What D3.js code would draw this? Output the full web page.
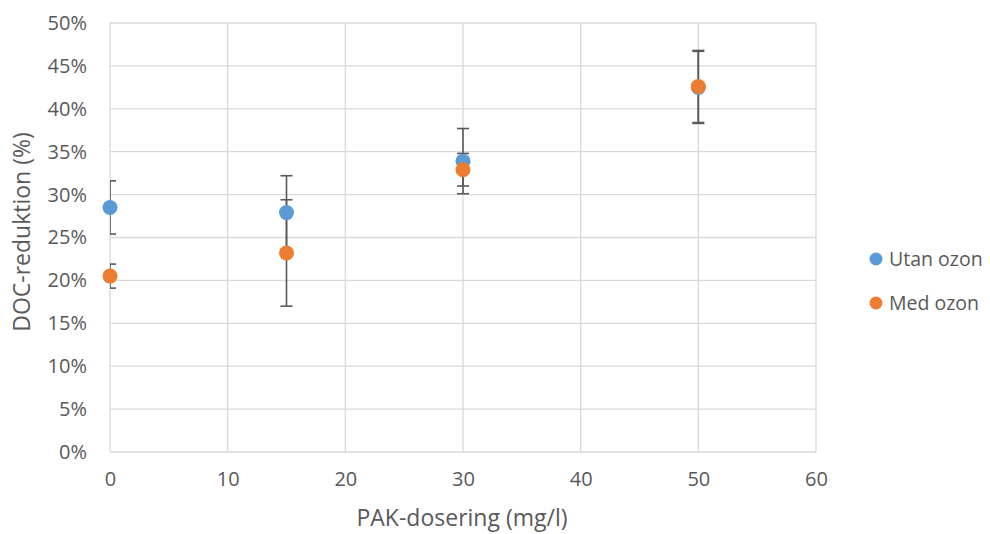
<!DOCTYPE html>
<html><head><meta charset="utf-8">
<script src="https://cdn.jsdelivr.net/npm/d3@7"></script>
<style>body{margin:0;background:#fff;} text{font-family:"Open Sans","Noto Sans",sans-serif;fill:#595959;}</style>
</head><body>
<svg id="c" width="990" height="534"></svg>
<script>
const dosering = [0, 15, 30, 50];
const utanOzon = [28.5, 27.9, 33.9, 42.5];
const utanOzonErr = [3.1, 4.3, 3.8, 4.2];
const medOzon = [20.5, 23.2, 32.9, 42.6];
const medOzonErr = [1.4, 6.2, 1.9, 4.2];
const xTicks = [0, 10, 20, 30, 40, 50, 60];
const yTicks = [0, 5, 10, 15, 20, 25, 30, 35, 40, 45, 50];
const seriesNames = ["Utan ozon", "Med ozon"];
const colors = ["#5b9bd5", "#ed7d31"];

const svg = d3.select("#c");
const L = 110, R = 816, T = 23, B = 452;
const x = d3.scaleLinear().domain([0, 60]).range([L, R]);
const y = d3.scaleLinear().domain([0, 50]).range([B, T]);

svg.append("g").selectAll("line").data(yTicks).join("line")
  .attr("x1", L).attr("x2", R).attr("y1", d => y(d)).attr("y2", d => y(d))
  .attr("stroke", "#d9d9d9").attr("stroke-width", 1.3);
svg.append("g").selectAll("line").data(xTicks).join("line")
  .attr("y1", T).attr("y2", B).attr("x1", d => x(d)).attr("x2", d => x(d))
  .attr("stroke", "#d9d9d9").attr("stroke-width", 1.3);

const yAxis = d3.axisLeft(y).tickValues(yTicks).tickFormat(d => d + "%").tickSize(0).tickPadding(23);
const gy = svg.append("g").attr("transform", `translate(${L},0)`).call(yAxis);
gy.select(".domain").remove();
gy.selectAll("text").attr("font-size", 20).style("fill", "#595959");

const xAxis = d3.axisBottom(x).tickValues(xTicks).tickSize(0).tickPadding(20);
const gx = svg.append("g").attr("transform", `translate(0,${B})`).call(xAxis);
gx.select(".domain").remove();
gx.selectAll("text").attr("font-size", 20).style("fill", "#595959");

svg.append("defs").append("clipPath").attr("id", "clip").append("rect")
  .attr("x", L).attr("y", T - 10).attr("width", R - L).attr("height", B - T + 20);

const data = [
  dosering.map((d, i) => ({x: d, v: utanOzon[i], e: utanOzonErr[i]})),
  dosering.map((d, i) => ({x: d, v: medOzon[i], e: medOzonErr[i]}))
];

const eb = svg.append("g").attr("clip-path", "url(#clip)");
data.forEach(s => {
  s.forEach(p => {
    const cx = x(p.x);
    eb.append("line").attr("x1", cx).attr("x2", cx).attr("y1", y(p.v - p.e)).attr("y2", y(p.v + p.e))
      .attr("stroke", "#595959").attr("stroke-width", 1.6);
    [p.v - p.e, p.v + p.e].forEach(v => {
      eb.append("line").attr("x1", cx - 6).attr("x2", cx + 6).attr("y1", y(v)).attr("y2", y(v))
        .attr("stroke", "#595959").attr("stroke-width", 1.6);
    });
  });
});

data.forEach((s, si) => {
  svg.append("g").selectAll("circle").data(s).join("circle")
    .attr("cx", d => x(d.x)).attr("cy", d => y(d.v)).attr("r", 7.5)
    .attr("fill", colors[si]);
});

svg.append("text").attr("x", 462).attr("y", 526).attr("text-anchor", "middle")
  .attr("font-size", 23).text("PAK-dosering (mg/l)");
svg.append("text").attr("transform", `translate(30,232) rotate(-90)`).attr("text-anchor", "middle")
  .attr("font-size", 23).text("DOC-reduktion (%)");

const lg = svg.append("g");
seriesNames.forEach((n, i) => {
  const yy = 259 + i * 44;
  lg.append("circle").attr("cx", 876).attr("cy", yy).attr("r", 6.5).attr("fill", colors[i]);
  lg.append("text").attr("x", 889).attr("y", yy).attr("dy", "0.35em").attr("font-size", 19.5).text(n);
});
</script>
</body></html>
